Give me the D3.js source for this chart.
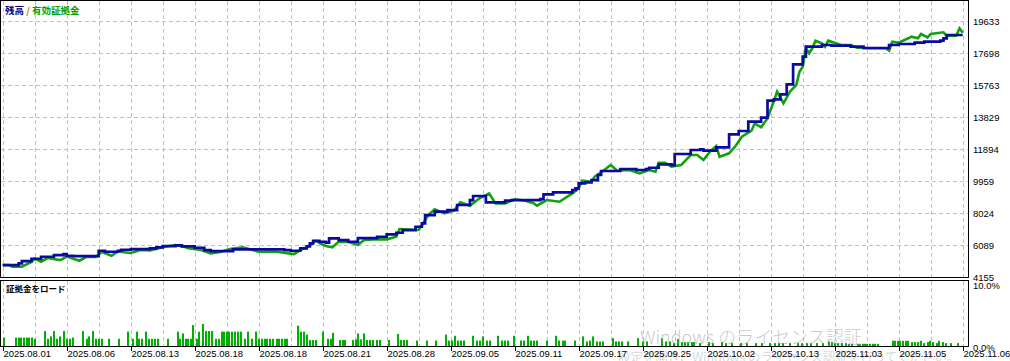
<!DOCTYPE html>
<html>
<head>
<meta charset="utf-8">
<script src="https://cdn.jsdelivr.net/npm/d3@7"></script>
<style>
  body { margin: 0; background: #fff; }
  svg { display: block; font-family: "Liberation Sans", "DejaVu Sans", sans-serif; }
  .grid { stroke: #c0c0c0; stroke-dasharray: 4,3; shape-rendering: crispEdges; }
  .frame { fill: none; stroke: #000; shape-rendering: crispEdges; }
  .lbl { font-size: 9.5px; fill: #000; }
  .jp { font-family: "Noto Sans CJK JP", sans-serif; }
</style>
</head>
<body>
<div id="graph"></div>
<script>
// tick labels along the bottom, one every 20 trades
var dateLabels = ["2025.08.01","2025.08.06","2025.08.13","2025.08.18","2025.08.18","2025.08.21",
  "2025.08.28","2025.09.05","2025.09.11","2025.09.17","2025.09.25","2025.10.02","2025.10.13",
  "2025.11.03","2025.11.05","2025.11.06"];
var yTicks = [4155, 6089, 8024, 9959, 11894, 13829, 15763, 17698, 19633];
var loadTicks = [0, 10];

// [trade number, value]
var balance = [[0,4896],[5,4999],[6,5138],[9,5277],[12,5398],[16,5501],[19,5562],[20,5459],[22,5441],
  [30,5761],[32,5701],[36,5761],[37,5822],[40,5864],[46,5906],[48,5967],[50,6045],[54,6088],[56,6027],
  [60,5943],[63,5804],[65,5743],[72,5846],[88,5804],[90,5761],[93,5906],[95,6027],[96,6209],[97,6366],
  [99,6305],[101,6245],[102,6511],[105,6408],[108,6305],[111,6529],[117,6608],[120,6753],[123,6850],
  [125,7013],[129,7212],[131,7418],[132,7920],[135,8120],[139,8222],[142,8525],[146,8827],[147,9069],
  [151,8688],[157,8785],[159,8827],[168,8887],[169,9172],[172,9293],[178,9432],[179,9535],[180,9837],
  [182,9897],[184,10036],[186,10339],[187,10581],[193,10702],[198,10641],[201,10702],[202,10780],
  [205,10986],[209,10943],[210,11609],[215,11851],[218,11893],[219,11808],[223,12014],[227,12800],
  [230,12999],[233,13562],[237,13804],[239,14832],[241,14916],[243,15219],[245,15823],[247,17033],
  [250,17492],[251,18097],[256,18200],[259,18157],[265,18097],[269,18018],[277,18200],[280,18260],
  [285,18339],[288,18399],[293,18460],[294,18605],[295,18805],[300,18805]];

var equity = [[0,4896],[2,4896],[3,4794],[6,4794],[9,5078],[10,5289],[12,5096],[14,5320],[18,5199],
  [20,5410],[24,5156],[26,5380],[29,5380],[31,5683],[34,5459],[36,5713],[40,5622],[43,5804],[46,5785],
  [51,6015],[54,6106],[57,5985],[58,5906],[62,5804],[65,5604],[68,5683],[71,5864],[75,5967],[77,5864],
  [80,5701],[85,5713],[91,5562],[93,5804],[95,5967],[98,6366],[99,6227],[101,6045],[103,5967],[105,6305],
  [108,6287],[111,6124],[113,6408],[116,6450],[120,6450],[123,6608],[124,7073],[127,7043],[130,7013],
  [131,7315],[133,7920],[135,8265],[138,8023],[141,8180],[143,8688],[146,8482],[149,8930],[152,9232],
  [154,8627],[157,8627],[160,8869],[163,8797],[166,8627],[167,8482],[170,8827],[174,8724],[178,9232],
  [180,9535],[181,9994],[184,9934],[185,10236],[188,10641],[190,10943],[192,10599],[196,10641],
  [199,10441],[202,10641],[204,10538],[205,11083],[207,11083],[209,10841],[212,10943],[215,11548],
  [217,11548],[219,11246],[221,11748],[223,12092],[224,11445],[227,11651],[229,12092],[231,12655],
  [234,13018],[235,13465],[237,13223],[239,13767],[241,14814],[242,15376],[244,14674],[246,15376],
  [248,15781],[249,16585],[250,16888],[251,18000],[252,17698],[253,18000],[254,18460],[256,18303],
  [257,18097],[258,18460],[262,18200],[265,18200],[267,18037],[271,18000],[276,18000],[277,17855],
  [278,18399],[280,18339],[283,18605],[284,18702],[286,18605],[287,18865],[289,18666],[290,18865],
  [294,18968],[295,18744],[298,18762],[299,19210],[300,18944]];

// margin load, percent
var load = [[0.4,1.5],[4.2,1.5],[5,1.5],[5.8,1.5],[6.7,1.5],[7.5,1.5],[8.3,1.5],[9.2,1.5],[10,1.3],
  [13.2,2.6],[14.3,1.3],[15.1,1.7],[16.1,2.6],[17.1,1.3],[17.9,1.7],[19.3,2.6],[20,1.3],[21,1.3],[22.1,1.5],
  [25,2.6],[26.3,1.3],[27.1,1.7],[28.1,2.6],[29.2,1.3],[30,1.3],[30.9,1.3],[33.2,1.3],[36.4,1.3],
  [39.1,2.5],[40.8,1.3],[41.9,2.5],[42.7,1.3],[43.6,1.3],[44.7,2.5],[45.8,1.3],[46.7,1.3],[47.5,1.3],
  [48.5,1.3],[51.6,1.3],[54.7,2.5],[55.4,1.3],[56.3,2.2],[57.2,1.3],[58,1.3],[58.8,1.3],[59.6,3.6],
  [60.6,1.3],[61.4,2.5],[62.5,3.8],[63.4,2.6],[64.5,2.6],[65.5,2.6],[66.7,1.3],[67.5,1.3],[68.4,2.5],
  [69.2,2.5],[70,2.5],[70.8,2.5],[71.7,2.5],[72.6,2.5],[73.4,2.5],[74.5,2.5],[75.7,1.3],[76.8,2.5],
  [78,1.3],[79.1,2.5],[80.2,1.3],[81,1.3],[81.9,1.3],[82.7,1.3],[83.5,1.3],[84.6,1.3],[85.6,1.3],
  [86.4,1.3],[87.3,1.3],[88.1,1.3],[88.9,1.3],[92.2,3.5],[93.2,2.5],[94.2,2.5],[95,2.0],[96,1.1],
  [96.9,1.1],[97.9,1.1],[100,2.5],[101.8,1.3],[102.6,1.3],[103.3,2.3],[105.4,1.1],[106.2,1.1],[107.1,1.1],
  [109.6,1.1],[110.4,1.2],[111.1,2.2],[112,1.2],[113,2.2],[113.7,1.1],[114.8,1.1],[115.8,1.1],[116.9,1.1],
  [117.9,1.1],[120.6,1.1],[123.4,2.1],[124.5,1.1],[125.4,1.1],[126.4,1.1],[129.4,1.0],[132.5,1.0],
  [135.3,1.0],[138.5,2.0],[139.5,1.0],[140.3,1.0],[141.3,1.8],[142.2,1.0],[143.2,1.0],[144.3,1.0],
  [147.1,1.8],[148.1,1.0],[149.2,1.0],[150.2,1.7],[151.3,1.0],[152.3,1.0],[154.9,1.8],[155.9,1.0],
  [157,1.0],[158,1.0],[159.9,1.8],[161.9,1.0],[162.9,1.0],[164.1,1.8],[165.1,1.0],[166.1,1.0],[167.1,1.0],
  [170.2,1.0],[172.9,1.8],[173.9,1.0],[175,1.0],[175.8,1.0],[178.8,1.0],[181.4,1.7],[182.5,0.85],
  [183.5,1.0],[184.6,1.7],[185.6,0.85],[186.7,0.85],[187.5,0.85],[190.6,1.4],[191.7,0.85],[192.6,0.85],
  [193.6,0.85],[195.5,0.85],[198.4,1.4],[200.2,0.85],[201.2,0.85],[205.9,1.4],[207.3,0.85],[208.4,0.85],
  [209.9,0.57],[211.1,1.24],[212.2,0.74],[213.2,0.74],[214.3,0.74],[215.3,0.74],[216.1,0.74],[217.9,0.57],
  [220.8,0.74],[222.1,0.57],[224.9,0.74],[225.9,0.57],[227.8,0.57],[230.7,0.57],[232.5,0.57],[235.4,0.57],
  [237.2,0.57],[239.8,0.57],[241.3,0.57],[242.7,0.57],[243.9,0.57],[246,0.57],[248.6,0.57],[249.7,0.57],
  [251.2,0.57],[252.6,0.57],[254.4,0.57],[256.4,0.57],[258.3,0.85],[259.1,0.74],[260.1,0.57],[261.1,0.57],
  [262.2,0.57],[263.4,0.57],[264.6,0.45],[265.5,0.45],[267.2,0.45],[267.9,0.45],[268.8,0.45],[269.5,0.45],
  [270.2,0.45],[271,0.45],[271.9,0.45],[272.7,0.45],[273.4,0.45],[278.1,0.96],[278.8,0.96],[279.7,0.96],
  [280.5,0.96],[281.3,0.96],[282.2,0.96],[283,0.96],[284.1,0.74],[285.1,0.74],[286.1,0.74],[286.9,0.96],
  [288,0.57],[289.1,0.74],[289.9,0.96],[290.8,0.74],[291.9,0.57],[292.7,0.96],[293.8,0.74],[294.7,0.57],
  [296.3,0.57],[298.6,0.57]];

var svg = d3.select('#graph').append("svg")
  .attr('width', 1010)
  .attr('height', 361);

// panes: main chart on top, margin load underneath
var left = 1, right = 968,
    mainTop = 1, mainBottom = 278,
    lowTop = 281, lowBottom = 347;

var x = d3.scaleLinear().domain([0, 300]).range([2.7, 962.7]);
var y = d3.scaleLinear().domain([4155, 19633]).range([277.3, 21.3]);
var yLoad = d3.scaleLinear().domain([0, 10]).range([346.5, 287]);

var gridX = d3.range(0, 301, 10);

// vertical grid in both panes
[[mainTop, mainBottom], [lowTop, lowBottom]].forEach(function(p) {
  svg.append("g").selectAll("line")
    .data(gridX).enter().append("line")
    .attr("class", "grid")
    .attr("x1", function(d) { return Math.round(x(d)) + 0.5; })
    .attr("x2", function(d) { return Math.round(x(d)) + 0.5; })
    .attr("y1", p[0]).attr("y2", p[1]);
});

// horizontal grid in main pane
svg.append("g").selectAll("line")
  .data(yTicks.slice(1)).enter().append("line")
  .attr("class", "grid")
  .attr("x1", left).attr("x2", right)
  .attr("y1", function(d) { return Math.round(y(d)) + 0.5; })
  .attr("y2", function(d) { return Math.round(y(d)) + 0.5; });

// margin load bars
svg.append("g").selectAll("rect")
  .data(load).enter().append("rect")
  .attr("x", function(d) { return Math.round(x(d[0])) - 1; })
  .attr("width", 2)
  .attr("y", function(d) { return yLoad(d[1]); })
  .attr("height", function(d) { return yLoad(0) - yLoad(d[1]); })
  .style("fill", "#00b000");

// watermark sitting over the screenshot
svg.append("text").attr("class", "jp")
  .attr("x", 640).attr("y", 344)
  .style("font-size", "18px").style("font-weight", 300)
  .style("fill", "#9a9a9a").style("fill-opacity", 0.55)
  .text("Windows のライセンス認証");
svg.append("text").attr("class", "jp")
  .attr("x", 618).attr("y", 362)
  .style("font-size", "12.5px")
  .style("fill", "#9a9a9a").style("fill-opacity", 0.4)
  .text("設定を開き、Windows のライセンス認証を行ってください。");

// equity (straight segments) then balance (steps) on top
var equityLine = d3.line()
  .x(function(d) { return x(d[0]); })
  .y(function(d) { return y(d[1]); });
var balanceLine = d3.line()
  .x(function(d) { return x(d[0]); })
  .y(function(d) { return y(d[1]); })
  .curve(d3.curveStepAfter);

svg.append("path")
  .datum(equity)
  .attr("d", equityLine)
  .style("fill", "none").style("stroke", "#10a010").style("stroke-width", 2.6);

svg.append("path")
  .datum(balance)
  .attr("d", balanceLine)
  .style("fill", "none").style("stroke", "#0a0aa0").style("stroke-width", 2.7);

// frames
svg.append("rect").attr("class", "frame")
  .attr("x", left - 0.5).attr("y", mainTop - 0.5)
  .attr("width", right - left + 1).attr("height", mainBottom - mainTop);
svg.append("rect").attr("class", "frame")
  .attr("x", left - 0.5).attr("y", lowTop - 0.5)
  .attr("width", right - left + 1).attr("height", lowBottom - lowTop);

// y labels, main pane
svg.append("g").selectAll("text")
  .data(yTicks).enter().append("text")
  .attr("class", "lbl")
  .attr("x", 973)
  .attr("y", function(d) { return y(d); })
  .attr("dy", "0.35em")
  .text(function(d) { return d; });

// y labels, load pane
svg.append("g").selectAll("text")
  .data(loadTicks).enter().append("text")
  .attr("class", "lbl")
  .attr("x", 973)
  .attr("y", function(d) { return d === 0 ? 347.5 : 286; })
  .attr("dy", "0.35em")
  .text(function(d) { return d.toFixed(1) + "%"; });

// x ticks and labels
var xTicks = svg.append("g").selectAll("g")
  .data(dateLabels).enter().append("g")
  .attr("transform", function(d, i) { return "translate(" + (Math.round(x(i * 20)) + 0.5) + ",0)"; });
xTicks.append("line")
  .attr("y1", lowBottom).attr("y2", lowBottom + 4)
  .style("stroke", "#000").style("shape-rendering", "crispEdges");
xTicks.append("text")
  .attr("class", "lbl")
  .attr("x", 0).attr("y", 353.5)
  .attr("dy", "0.35em")
  .text(function(d) { return d; });

// legend text
var legend = svg.append("text").attr("class", "jp")
  .attr("x", 5).attr("y", 11).attr("dy", "0.35em")
  .style("font-size", "9.5px").style("font-weight", "bold");
legend.append("tspan").style("fill", "#000080").text("残高 ");
legend.append("tspan").style("fill", "#d07000").text("/");
legend.append("tspan").style("fill", "#00a000").text(" 有効証拠金");

svg.append("text").attr("class", "jp")
  .attr("x", 6).attr("y", 289.5).attr("dy", "0.35em")
  .style("font-size", "8.5px").style("font-weight", "bold")
  .text("証拠金をロード");
</script>
</body>
</html>
